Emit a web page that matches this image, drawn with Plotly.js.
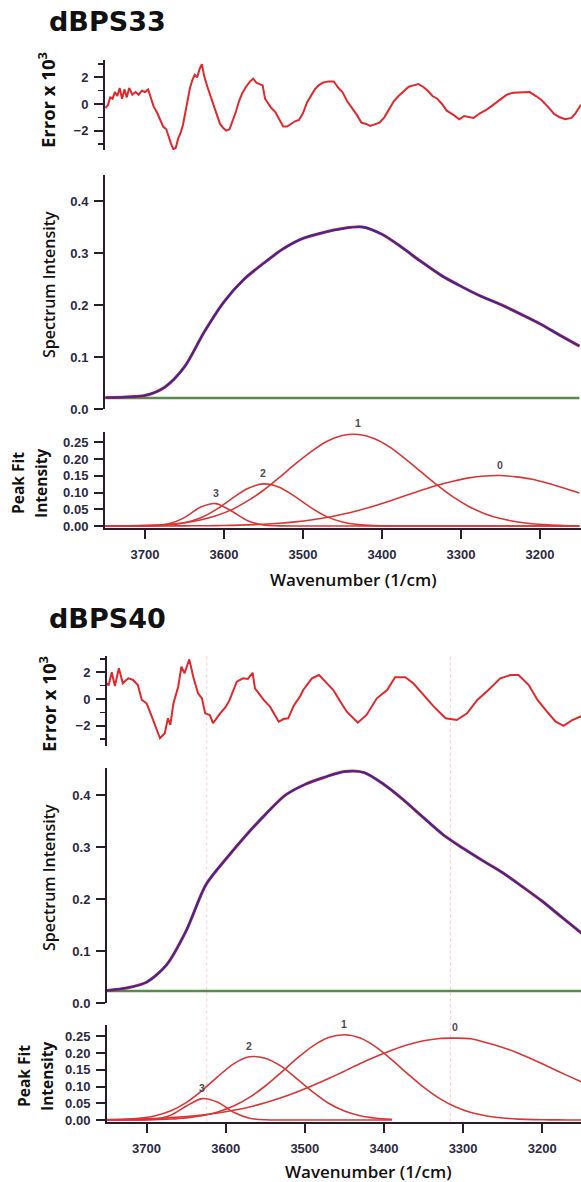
<!DOCTYPE html>
<html>
<head>
<meta charset="utf-8">
<script src="https://cdn.plot.ly/plotly-3.0.1.min.js"></script>
<style>
html,body{margin:0;padding:0;background:#ffffff;}
#chart{width:581px;height:1182px;}
</style>
</head>
<body>
<div id="chart"></div>
<script>
// ---------------- DATA ----------------
const panelTitles = ['dBPS33', 'dBPS40'];
const xTickVals = [3700, 3600, 3500, 3400, 3300, 3200];
const peakLabels = ['3', '2', '1', '0'];

// Error x 10^3 (residual) -- dBPS33
const err33Wavenumber = [3750,3747,3744,3741,3738,3735,3732,3729,3726,3723,
  3720,3716,3712,3708,3704,3700,3696,3692,3689,3685,
  3681,3677,3673,3670,3667,3664,3661,3658,3655,3652,
  3649,3646,3643,3640,3637,3634,3631,3628,3625,3621,
  3617,3613,3609,3605,3601,3597,3593,3589,3585,3581,
  3577,3572,3567,3563,3559,3555,3551,3548,3544,3540,
  3535,3530,3525,3520,3515,3510,3505,3500,3495,3490,
  3485,3480,3475,3468,3461,3455,3450,3444,3438,3432,
  3426,3420,3415,3409,3403,3397,3391,3385,3379,3372,
  3366,3360,3354,3348,3342,3336,3330,3324,3318,3310,
  3302,3296,3290,3284,3276,3268,3260,3251,3242,3234,
  3224,3213,3205,3198,3190,3182,3175,3168,3160,3155,3148];
const err33Value = [-0.3,-0.1,0.5,0.4,0.9,0.6,1.2,0.4,1.1,0.5,
  1.2,0.7,0.9,0.7,1.0,0.9,1.1,0.3,-0.2,-0.6,
  -1.2,-1.7,-1.9,-2.5,-3.0,-3.4,-3.3,-2.6,-2.2,-1.6,
  -0.6,0.4,1.2,1.8,2.2,2.0,2.6,3.0,2.1,1.3,
  0.6,-0.2,-0.8,-1.5,-1.8,-2.0,-1.9,-1.3,-0.6,0.2,
  0.8,1.3,1.7,1.9,1.6,1.5,1.4,0.4,0.0,-0.3,
  -0.6,-1.1,-1.7,-1.7,-1.5,-1.3,-1.2,-0.7,0.1,0.6,
  1.1,1.4,1.6,1.7,1.7,1.2,0.9,0.2,-0.3,-0.8,
  -1.4,-1.5,-1.65,-1.5,-1.4,-1.0,-0.4,0.2,0.6,1.0,
  1.3,1.4,1.5,1.3,1.0,0.6,0.4,0.0,-0.5,-0.8,
  -1.15,-0.9,-1.0,-1.05,-0.7,-0.45,-0.1,0.3,0.7,0.85,
  0.9,0.9,0.6,0.3,-0.2,-0.75,-1.0,-1.15,-1.05,-0.7,-0.05];

// Error x 10^3 (residual) -- dBPS40
const err40Wavenumber = [3750,3748,3744,3740,3735,3730,3726,3723,3717,3711,
  3706,3700,3696,3692,3688,3683,3677,3673,3670,3666,
  3660,3656,3652,3646,3641,3635,3630,3626,3620,3616,
  3607,3600,3595,3586,3578,3572,3566,3563,3552,3544,
  3533,3527,3521,3514,3506,3502,3491,3482,3472,3464,
  3455,3447,3433,3422,3409,3396,3386,3373,3363,3350,
  3337,3322,3308,3295,3282,3268,3253,3240,3230,3217,
  3206,3194,3183,3173,3162,3150];
const err40Value = [1.2,1.0,2.0,0.97,2.3,1.17,1.4,1.54,1.42,1.04,
  -0.07,-0.32,-0.9,-1.57,-2.2,-2.93,-2.56,-1.44,-1.94,-0.32,
  0.92,2.41,1.92,2.96,1.66,0.43,0.05,-1.07,-1.2,-1.81,
  -1.07,-0.6,-0.07,1.29,1.54,1.5,1.96,0.8,-0.07,-0.57,
  -1.7,-1.5,-1.44,-0.5,0.2,0.67,1.54,1.79,1.17,0.67,
  -0.2,-0.95,-1.77,-1.19,0.05,0.67,1.62,1.62,1.17,0.3,
  -0.57,-1.44,-1.57,-1.07,-0.07,0.67,1.54,1.79,1.79,1.04,
  -0.07,-0.95,-1.69,-2.01,-1.57,-1.27];

// Spectrum intensity (measured = red, fit = blue)
const specWavenumber = [3750,3725,3700,3675,3650,3625,3600,3575,3550,3525,3500,3475,3450,
  3425,3400,3375,3350,3325,3300,3275,3250,3225,3200,3175,3150];
const spec33Data = [0.022,0.023,0.026,0.042,0.081,0.148,0.206,0.249,0.280,0.308,0.328,0.339,0.347,
  0.350,0.336,0.311,0.283,0.257,0.236,0.217,0.201,0.183,0.164,0.142,0.121];
const spec33Fit = [0.022,0.023,0.026,0.042,0.081,0.148,0.206,0.249,0.280,0.308,0.328,0.339,0.347,
  0.350,0.336,0.311,0.283,0.257,0.236,0.217,0.201,0.183,0.164,0.142,0.121];
const spec40Data = [0.024,0.029,0.040,0.073,0.139,0.228,0.277,0.322,0.363,0.400,0.421,0.435,0.446,
  0.444,0.421,0.391,0.357,0.324,0.298,0.274,0.251,0.224,0.196,0.165,0.134];
const spec40Fit = [0.024,0.029,0.040,0.073,0.139,0.228,0.277,0.322,0.363,0.400,0.421,0.435,0.446,
  0.444,0.421,0.391,0.357,0.324,0.298,0.274,0.251,0.224,0.196,0.165,0.134];
const baselineWavenumber = [3750, 3150];
const baseline33 = [0.021, 0.021];
const baseline40 = [0.023, 0.023];

// Peak fit components
const peakWavenumber = [3750,3730,3710,3690,3670,3650,3630,3610,3590,3570,3550,3530,3510,3490,3470,
  3450,3430,3410,3390,3370,3350,3330,3310,3290,3270,3250,3230,3210,3190,3170,3150];
const peak33_3 = [0,0,0.0001,0.0009,0.0064,0.025,0.056,0.067,0.044,0.016,0.003,0.0004,0,0,0,
  0,0,0,0,0,0,0,0,0,0,0,0,0,0,0,0];
const peak33_2 = [0,0,0.0002,0.0009,0.0032,0.0097,0.024,0.049,0.082,0.112,0.126,0.116,0.088,0.055,0.028,
  0.0118,0.004,0.0011,0.0003,0,0,0,0,0,0,0,0,0,0,0,0];
const peak33_1 = [0.0002,0.0005,0.0012,0.0026,0.0052,0.0099,0.018,0.0305,0.049,0.075,0.107,0.145,0.185,0.222,0.253,
  0.271,0.274,0.262,0.236,0.200,0.161,0.122,0.087,0.0585,0.037,0.0223,0.0126,0.0067,0.0034,0.0016,0.0007];
const peak33_0 = [0,0,0.0001,0.0001,0.0002,0.0004,0.0007,0.0012,0.002,0.0033,0.0053,0.0082,0.0124,0.018,0.0255,
  0.035,0.0464,0.06,0.075,0.091,0.107,0.122,0.134,0.144,0.1497,0.151,0.147,0.140,0.128,0.114,0.099];

const peak40_3 = [0,0,0.0002,0.0025,0.0138,0.041,0.064,0.053,0.023,0.0053,0.0006,0,0,0,0,
  0,0,0,0,null,null,null,null,null,null,null,null,null,null,null,null];
const peak40_2 = [0.0005,0.0016,0.0047,0.012,0.0267,0.052,0.088,0.13,0.168,0.189,0.185,0.161,0.123,0.084,0.050,
  0.0267,0.0125,0.0052,0.0019,null,null,null,null,null,null,null,null,null,null,null,null];
const peak40_1 = [0.0001,0.0002,0.0005,0.0012,0.0028,0.0062,0.0126,0.0238,0.0416,0.0675,0.1017,0.142,0.184,0.221,0.2465,
  0.255,0.245,0.218,0.18,0.138,0.098,0.0645,0.0395,0.0224,0.0118,0.0058,0.0026,0.0011,0.0004,0.0002,0.0001];
const peak40_0 = [0.0012,0.0019,0.003,0.0046,0.007,0.0103,0.0149,0.0209,0.029,0.039,0.0515,0.0663,0.0836,0.103,0.124,
  0.146,0.169,0.19,0.209,0.225,0.237,0.244,0.245,0.243,0.231,0.217,0.2,0.179,0.157,0.135,0.1135];

// Cursor (dotted) lines in the dBPS40 panel
const cursor40 = [3624, 3316];

// ---------------- LAYOUT HELPERS ----------------
const W = 581, H = 1182;
function ydom(top, bottom) { return [1 - bottom / H, 1 - top / H]; }
const axisColor = '#2a1c2c';
const tickFont = {family: 'Liberation Sans, Arial, sans-serif', size: 13, color: '#2b2a42', weight: 'bold'};
const titleFamily = 'Open Sans, Liberation Sans, sans-serif';
const errColor = '#e0282d';
const dataColor = '#d8262a';
const fitColor = '#2b2ca6';
const baseColor = '#5a8a4c';
const peakColor = '#d93636';

const panels = [
  {title: panelTitles[0], xdom: [105 / W, 1], xr: [3750.6, 3148],
   err: {dom: ydom(60, 150), r: [-3.46, 3.31]},
   spec: {dom: ydom(175, 409), r: [0, 0.45]},
   peak: {dom: ydom(432, 527.5), r: [-0.0045, 0.2813]},
   errX: err33Wavenumber, errY: err33Value,
   specData: spec33Data, specFit: spec33Fit, base: baseline33,
   peaks: [peak33_3, peak33_2, peak33_1, peak33_0],
   titleY: 22, errTitle: [47, 100], specTitle: [49, 285], peakTitle: [[18, 483], [41, 483]], xTitle: [353, 579]},
  {title: panelTitles[1], xdom: [107 / W, 1], xr: [3750, 3151],
   err: {dom: ydom(656, 746), r: [-3.51, 3.21]},
   spec: {dom: ydom(768, 1003), r: [0, 0.4528]},
   peak: {dom: ydom(1025, 1121.5), r: [-0.0045, 0.2842]},
   errX: err40Wavenumber, errY: err40Value,
   specData: spec40Data, specFit: spec40Fit, base: baseline40,
   peaks: [peak40_3, peak40_2, peak40_1, peak40_0],
   titleY: 618, errTitle: [47, 704], specTitle: [49, 878], peakTitle: [[24, 1076], [47, 1076]], xTitle: [368, 1171]}
];

const traces = [];
const layout = {
  width: W, height: H, margin: {l: 0, r: 0, t: 0, b: 0},
  paper_bgcolor: '#ffffff', plot_bgcolor: '#ffffff', showlegend: false,
  annotations: [], shapes: []
};

function yAxis(dom, r, anchor, dtick, fmt, minor) {
  const a = {domain: dom, range: r, anchor: anchor, showline: true, linecolor: axisColor, linewidth: 2,
    ticks: 'outside', ticklen: 9, tickwidth: 2, tickcolor: axisColor, tick0: 0, dtick: dtick,
    tickformat: fmt, tickfont: tickFont, showgrid: false, zeroline: false, ticklabelstandoff: 3,
    fixedrange: true};
  if (minor) a.minor = {dtick: minor, ticks: 'outside', ticklen: 5, tickwidth: 1.5, tickcolor: axisColor, showgrid: false};
  return a;
}
function hiddenX(dom, r, anchor) {
  return {domain: dom, range: r, anchor: anchor, visible: false, showgrid: false, zeroline: false};
}

panels.forEach((p, i) => {
  const n0 = i * 3;
  const xe = 'x' + (n0 + 1), ye = 'y' + (n0 + 1);
  const xs = 'x' + (n0 + 2), ys = 'y' + (n0 + 2);
  const xp = 'x' + (n0 + 3), yp = 'y' + (n0 + 3);
  const key = k => (k === 1 ? '' : k);

  layout['xaxis' + key(n0 + 1)] = hiddenX(p.xdom, p.xr, ye);
  layout['xaxis' + key(n0 + 2)] = hiddenX(p.xdom, p.xr, ys);
  layout['xaxis' + key(n0 + 3)] = {domain: p.xdom, range: p.xr, anchor: yp, showline: true, linecolor: axisColor,
    linewidth: 2, ticks: 'outside', ticklen: 9, tickwidth: 2, tickcolor: axisColor, tickmode: 'array',
    tickvals: xTickVals, tickfont: tickFont, showgrid: false, zeroline: false, ticklabelstandoff: 5, fixedrange: true};
  layout['yaxis' + key(n0 + 1)] = yAxis(p.err.dom, p.err.r, xe, 2, 'd', 1);
  layout['yaxis' + key(n0 + 2)] = yAxis(p.spec.dom, p.spec.r, xs, 0.1, '.1f');
  layout['yaxis' + key(n0 + 3)] = yAxis(p.peak.dom, p.peak.r, xp, 0.05, '.2f');

  // error trace
  traces.push({x: p.errX, y: p.errY, xaxis: xe, yaxis: ye, mode: 'lines', type: 'scatter',
    line: {color: errColor, width: 2}, hoverinfo: 'skip'});
  // spectrum: baseline, measured, fit
  traces.push({x: baselineWavenumber, y: p.base, xaxis: xs, yaxis: ys, mode: 'lines', type: 'scatter',
    line: {color: baseColor, width: 2.5}, hoverinfo: 'skip'});
  traces.push({x: specWavenumber, y: p.specData, xaxis: xs, yaxis: ys, mode: 'lines', type: 'scatter',
    line: {color: dataColor, width: 3, shape: 'spline', smoothing: 0.8}, hoverinfo: 'skip'});
  traces.push({x: specWavenumber, y: p.specFit, xaxis: xs, yaxis: ys, mode: 'lines', type: 'scatter',
    line: {color: fitColor, width: 1.8, shape: 'spline', smoothing: 0.8}, hoverinfo: 'skip'});
  // peaks
  p.peaks.forEach((pk, j) => {
    traces.push({x: peakWavenumber, y: pk, xaxis: xp, yaxis: yp, mode: 'lines', type: 'scatter',
      line: {color: peakColor, width: 1.6, shape: 'spline', smoothing: 0.8}, connectgaps: false, hoverinfo: 'skip'});
    let best = 0;
    pk.forEach((v, k) => { if (v != null && v > pk[best]) best = k; });
    layout.annotations.push({x: peakWavenumber[best], y: pk[best], xref: xp, yref: yp, text: peakLabels[j],
      showarrow: false, yshift: 11, font: {family: 'Liberation Sans, Arial, sans-serif', size: 10.5, color: '#4a4a58', weight: 'bold'}});
  });

  // panel title
  layout.annotations.push({x: 47 / W, y: 1 - p.titleY / H, xref: 'paper', yref: 'paper', xanchor: 'left', yanchor: 'middle',
    text: p.title, showarrow: false, font: {family: 'DejaVu Sans, sans-serif', size: 27, color: '#111111', weight: 'bold'}});
  // y titles
  layout.annotations.push({x: p.errTitle[0] / W, y: 1 - p.errTitle[1] / H, xref: 'paper', yref: 'paper',
    xanchor: 'center', yanchor: 'middle', textangle: -90, showarrow: false, text: 'Error x 10<sup>3</sup>',
    font: {family: titleFamily, size: 18.5, color: '#111111', weight: 'bold'}});
  layout.annotations.push({x: p.specTitle[0] / W, y: 1 - p.specTitle[1] / H, xref: 'paper', yref: 'paper',
    xanchor: 'center', yanchor: 'middle', textangle: -90, showarrow: false, text: 'Spectrum Intensity',
    font: {family: titleFamily, size: 16, color: '#111111', weight: 600}});
  ['Peak Fit', 'Intensity'].forEach((t, k) => {
    layout.annotations.push({x: p.peakTitle[k][0] / W, y: 1 - p.peakTitle[k][1] / H, xref: 'paper', yref: 'paper',
      xanchor: 'center', yanchor: 'middle', textangle: -90, showarrow: false, text: t,
      font: {family: titleFamily, size: 15.5, color: '#111111', weight: 'bold'}});
  });
  // x title
  layout.annotations.push({x: p.xTitle[0] / W, y: 1 - p.xTitle[1] / H, xref: 'paper', yref: 'paper',
    xanchor: 'center', yanchor: 'middle', showarrow: false, text: 'Wavenumber (1/cm)',
    font: {family: titleFamily, size: 17, color: '#111111', weight: 600}});
});

// dotted cursor lines (dBPS40 panel)
cursor40.forEach(c => {
  layout.shapes.push({type: 'line', xref: 'x4', yref: 'paper', x0: c, x1: c,
    y0: 1 - 1121.5 / H, y1: 1 - 656 / H, layer: 'below',
    line: {color: '#f8ccd5', width: 1, dash: 'dot'}});
});

Plotly.newPlot('chart', traces, layout, {staticPlot: true, displayModeBar: false});
</script>
</body>
</html>
